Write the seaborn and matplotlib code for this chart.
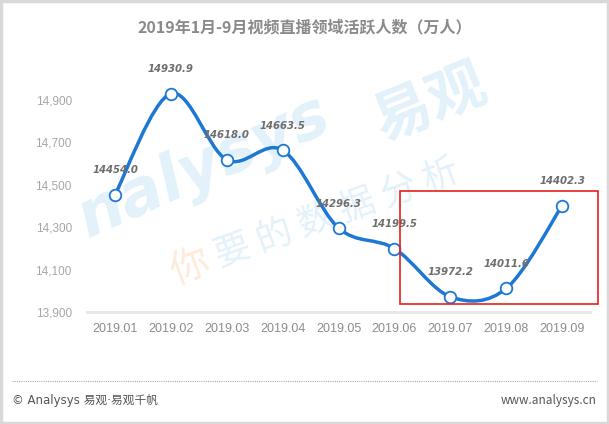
import numpy as np
import matplotlib
matplotlib.use("Agg")
import matplotlib.pyplot as plt
from matplotlib.path import Path
from matplotlib.patches import PathPatch, Rectangle
import seaborn as sns
import pandas as pd

months = ["2019.01", "2019.02", "2019.03", "2019.04", "2019.05",
          "2019.06", "2019.07", "2019.08", "2019.09"]
active_users = [14454.0, 14930.9, 14618.0, 14663.5, 14296.3,
                14199.5, 13972.2, 14011.6, 14402.3]
y_ticks = [13900, 14100, 14300, 14500, 14700, 14900]
title = "2019年1月-9月视频直播领域活跃人数（万人）"

df = pd.DataFrame({"month": months, "users": active_users})
df["pos"] = np.arange(len(df))

sns.set_style("white")
plt.rcParams["font.family"] = ["Noto Sans CJK SC", "DejaVu Sans"]

blue = "#1c78d4"
gray = "#8c8c8c"

fig = plt.figure(figsize=(6.09, 4.24), dpi=100)

# watermark, behind the chart
fig.text(0.11, 0.44, "nalysys", fontsize=46, weight="bold", style="italic",
         color="#e3f1fb", rotation=24, zorder=0, family="DejaVu Sans")
fig.text(0.60, 0.67, "易观", fontsize=42, weight="bold", color="#e3f1fb",
         rotation=22, zorder=0)
fig.text(0.27, 0.33, "你", fontsize=28, color="#fdebdc",
         rotation=20, zorder=0)
fig.text(0.345, 0.37, "要 的 数 据 分 析", fontsize=26, color="#e3f1fb",
         rotation=20, zorder=0, weight="light")

ax = fig.add_axes([0.143, 0.264, 0.826, 0.55])
ax.set_zorder(2)
ax.patch.set_alpha(0)

# smooth line like excel: bezier through points
xs = df["pos"].to_numpy(float)
ys = df["users"].to_numpy(float)
verts = [(xs[0], ys[0])]
codes = [Path.MOVETO]
n = len(xs)
for i in range(n - 1):
    p0 = np.array([xs[max(i - 1, 0)], ys[max(i - 1, 0)]])
    p1 = np.array([xs[i], ys[i]])
    p2 = np.array([xs[i + 1], ys[i + 1]])
    p3 = np.array([xs[min(i + 2, n - 1)], ys[min(i + 2, n - 1)]])
    c1 = p1 + (p2 - p0) / 6.0
    c2 = p2 - (p3 - p1) / 6.0
    verts += [tuple(c1), tuple(c2), tuple(p2)]
    codes += [Path.CURVE4] * 3
ax.add_patch(PathPatch(Path(verts, codes), facecolor="none", edgecolor=blue,
                       lw=2.5, zorder=2, capstyle="round"))

sns.scatterplot(data=df, x="pos", y="users", ax=ax, s=70, color="white",
                edgecolor=blue, linewidth=1.3, zorder=3, legend=False)

for _, r in df.iterrows():
    ax.annotate(f"{r['users']:.1f}", (r["pos"], r["users"]), xytext=(0, 14),
                textcoords="offset points", ha="center", va="bottom",
                fontsize=7.3, color="#6e6e6e", style="italic", weight="bold",
                family="DejaVu Sans", zorder=4)

ax.set_xlim(-0.5, len(months) - 0.5)
ax.set_ylim(13900, 15000)
ax.set_yticks(y_ticks)
ax.set_yticklabels([f"{v:,}" for v in y_ticks])
ax.set_xticks(df["pos"])
ax.set_xticklabels(months)
ax.set_xticks(np.arange(-0.5, len(months)), minor=True)
ax.tick_params(axis="x", which="major", length=0, pad=8, labelsize=9, labelcolor=gray)
ax.tick_params(axis="x", which="minor", length=4, color="#e0e0e0", width=1, direction="out")
ax.tick_params(axis="y", length=0, pad=11, labelsize=8.5, labelcolor="#a6a6a6")
for lab in ax.get_xticklabels() + ax.get_yticklabels():
    lab.set_family(["Liberation Sans", "DejaVu Sans"])
for s in ["top", "right", "left"]:
    ax.spines[s].set_visible(False)
ax.spines["bottom"].set_color("#e6e6e6")
ax.spines["bottom"].set_linewidth(2)
ax.set_xlabel("")
ax.set_ylabel("")

# red highlight box
ax.add_patch(Rectangle((5.1, 13938), 3.54, 535, fill=False, edgecolor="#e8201c",
                       lw=1.2, clip_on=False, zorder=5))

fig.text(0.5, 0.936, title, ha="center", va="center", fontsize=11.5,
         weight="bold", color="#8a8a8a")

fig.add_artist(plt.Line2D([0.02, 0.98], [0.101, 0.101], transform=fig.transFigure,
                          color="#aaaaaa", lw=0.8, ls=(0, (1, 1))))
fig.text(0.02, 0.055, "© Analysys 易观·易观千帆", fontsize=8.5, color="#555555",
         va="center", ha="left", family=["DejaVu Sans", "Noto Sans CJK SC"])
fig.text(0.98, 0.055, "www.analysys.cn", fontsize=8.5, color="#555555",
         va="center", ha="right")

fig.add_artist(Rectangle((0.002, 0.003), 0.996, 0.994, transform=fig.transFigure,
                         fill=False, edgecolor="#d9d9d9", lw=2.5))

fig.savefig("out.png", dpi=100)
